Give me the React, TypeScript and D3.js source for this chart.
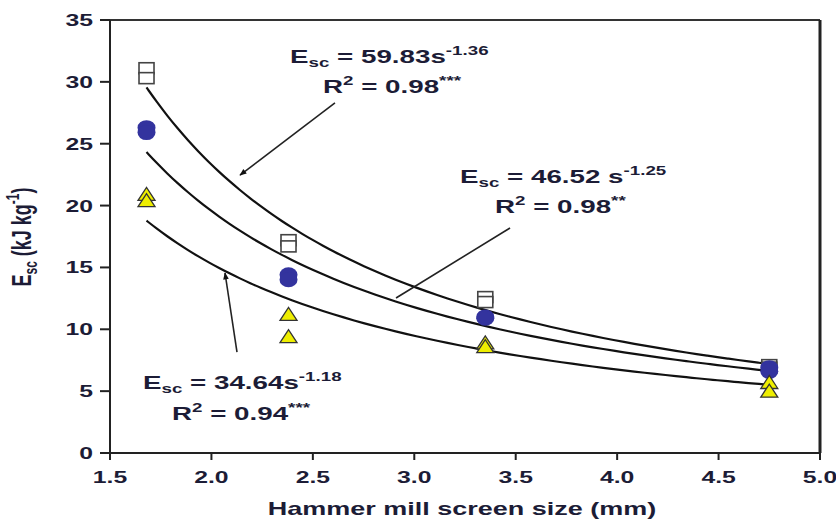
import React from "react";
import * as d3 from "d3";

const screenSizes = [1.68, 2.38, 3.35, 4.75];
const squaresA = [31.1, 17.2, 12.6, 7.1];
const squaresB = [30.3, 16.7, 12.2, 6.9];
const circlesA = [26.3, 14.4, 11.0, 6.9];
const circlesB = [25.9, 14.0, 10.9, 6.6];
const trianglesA = [20.9, 11.2, 8.9, 5.7];
const trianglesB = [20.4, 9.4, 8.6, 5.0];

const fitCoef = [59.83, 46.52, 34.64];
const fitExp = [-1.36, -1.25, -1.18];
const fitRange = [1.68, 4.75];

const xTicks = [1.5, 2.0, 2.5, 3.0, 3.5, 4.0, 4.5, 5.0];
const yTicks = [0, 5, 10, 15, 20, 25, 30, 35];

const W = 836;
const H = 520;
const SX = 1.5;
const TXT = "#1c1c36";
const FONT = "'Liberation Sans', Arial, sans-serif";

export default function App() {
  const x = d3.scaleLinear().domain([1.5, 5.0]).range([110, 820]);
  const y = d3.scaleLinear().domain([0, 35]).range([453, 20]);

  const line = d3
    .line<number>()
    .x((s) => x(s))
    .curve(d3.curveBasis);

  const samples = d3.range(0, 61).map((i) => fitRange[0] + ((fitRange[1] - fitRange[0]) * i) / 60);

  const curves = fitCoef.map((a, k) =>
    line.y((s) => y(a * Math.pow(s, fitExp[k])))(samples)
  );

  const st = (tx: number, ty: number) => `translate(${tx},${ty}) scale(${SX},1)`;

  const sq = (s: number, v: number, key: string) => (
    <rect key={key} x={x(s) - 7.5} y={y(v) - 5.5} width={15} height={11} fill="#fff" stroke="#444" strokeWidth={1.6} />
  );
  const circ = (s: number, v: number, key: string) => (
    <ellipse key={key} cx={x(s)} cy={y(v)} rx={9} ry={7.5} fill="#33339e" />
  );
  const tri = (s: number, v: number, key: string) => {
    const cx = x(s);
    const cy = y(v);
    return (
      <path
        key={key}
        d={`M${cx - 8.5},${cy + 6} L${cx + 8.5},${cy + 6} L${cx},${cy - 7} Z`}
        fill="#eeee00"
        stroke="#333"
        strokeWidth={1.3}
      />
    );
  };

  // annotation arrows in data coordinates
  const arrows = [
    { x1: 2.609, y1: 28.3, x2: 2.141, y2: 22.47, head: true },
    { x1: 3.472, y1: 18.19, x2: 2.91, y2: 12.53, head: false },
    { x1: 2.126, y1: 8.16, x2: 2.067, y2: 14.55, head: true },
  ];

  const eq = (
    tx: number,
    ty: number,
    coef: string,
    expo: string,
    r2: string,
    stars: string,
    rx: number,
    ry: number,
    key: string
  ) => (
    <g key={key} fontFamily={FONT} fontWeight="bold" fill={TXT}>
      <text transform={st(tx, ty)} fontSize={18.5}>
        <tspan>E</tspan>
        <tspan fontSize={12.5} dy={4}>sc</tspan>
        <tspan dy={-4}>{` = ${coef}`}</tspan>
        <tspan fontSize={12.5} dy={-8}>{expo}</tspan>
      </text>
      <text transform={st(rx, ry)} fontSize={18.5}>
        <tspan>R</tspan>
        <tspan fontSize={12.5} dy={-8}>2</tspan>
        <tspan dy={8}>{` = ${r2}`}</tspan>
        <tspan fontSize={12.5} dy={-8}>{stars}</tspan>
      </text>
    </g>
  );

  return (
    <svg width={W} height={H} style={{ position: "absolute", left: 0, top: 0, background: "#fff" }}>
      <defs>
        <marker id="ah" viewBox="0 0 10 10" refX={9} refY={5} markerWidth={9} markerHeight={7} orient="auto" markerUnits="userSpaceOnUse">
          <path d="M0,1 L10,5 L0,9 Z" fill="#111" />
        </marker>
      </defs>
      <rect x={0} y={0} width={W} height={H} fill="#fff" />

      {/* frame */}
      <line x1={110} y1={y(35)} x2={820} y2={y(35)} stroke="#333" strokeWidth={2} />
      <line x1={820} y1={y(35)} x2={820} y2={y(0)} stroke="#222" strokeWidth={3} />
      <line x1={110} y1={y(0)} x2={820} y2={y(0)} stroke="#222" strokeWidth={2} />
      <line x1={110} y1={y(35)} x2={110} y2={y(0)} stroke="#222" strokeWidth={2} />

      {/* ticks */}
      {yTicks.map((t) => (
        <g key={"y" + t}>
          <line x1={100} x2={110} y1={y(t)} y2={y(t)} stroke="#222" strokeWidth={2} />
          <text transform={st(93, y(t) + 6)} textAnchor="end" fontFamily={FONT} fontWeight="bold" fontSize={16.5} fill={TXT}>
            {t}
          </text>
        </g>
      ))}
      {xTicks.map((t) => (
        <g key={"x" + t}>
          <line x1={x(t)} x2={x(t)} y1={y(0)} y2={y(0) + 7} stroke="#222" strokeWidth={2} />
          <text transform={st(x(t), 483)} textAnchor="middle" fontFamily={FONT} fontWeight="bold" fontSize={16.5} fill={TXT}>
            {d3.format(".1f")(t)}
          </text>
        </g>
      ))}

      {/* axis titles */}
      <text transform={st(462, 515)} textAnchor="middle" fontFamily={FONT} fontWeight="bold" fontSize={18} fill={TXT}>
        Hammer mill screen size (mm)
      </text>
      <text
        transform={`translate(31,237) scale(${SX},1) rotate(-90)`}
        textAnchor="middle"
        fontFamily={FONT}
        fontWeight="bold"
        fontSize={18}
        fill={TXT}
      >
        <tspan>E</tspan>
        <tspan fontSize={12} dy={4}>sc</tspan>
        <tspan dy={-4}> (kJ kg</tspan>
        <tspan fontSize={12} dy={-8}>-1</tspan>
        <tspan dy={8}>)</tspan>
      </text>

      {/* fitted curves */}
      {curves.map((d, i) => (
        <path key={"c" + i} d={d || ""} fill="none" stroke="#111" strokeWidth={2.2} />
      ))}

      {/* arrows */}
      {arrows.map((a, i) => (
        <line
          key={"a" + i}
          x1={x(a.x1)}
          y1={y(a.y1)}
          x2={x(a.x2)}
          y2={y(a.y2)}
          stroke="#222"
          strokeWidth={1.6}
          markerEnd={a.head ? "url(#ah)" : undefined}
        />
      ))}

      {/* markers */}
      {screenSizes.map((s, i) => sq(s, squaresA[i], "sa" + i))}
      {screenSizes.map((s, i) => sq(s, squaresB[i], "sb" + i))}
      {screenSizes.map((s, i) => circ(s, circlesA[i], "ca" + i))}
      {screenSizes.map((s, i) => circ(s, circlesB[i], "cb" + i))}
      {screenSizes.map((s, i) => tri(s, trianglesA[i], "ta" + i))}
      {screenSizes.map((s, i) => tri(s, trianglesB[i], "tb" + i))}

      {/* equations */}
      {eq(290, 63, "59.83s", "-1.36", "0.98", "***", 323, 93, "e1")}
      {eq(460, 183, "46.52 s", "-1.25", "0.98", "**", 495, 213, "e2")}
      {eq(143, 389, "34.64s", "-1.18", "0.94", "***", 172, 420, "e3")}
    </svg>
  );
}
